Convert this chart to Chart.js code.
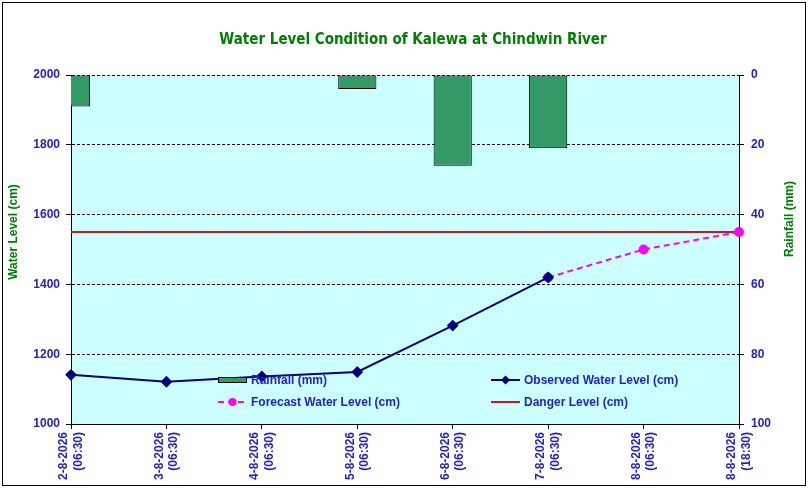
<!DOCTYPE html>
<html>
<head>
<meta charset="utf-8">
<script src="https://cdn.jsdelivr.net/npm/chart.js@4/dist/chart.umd.min.js"></script>
<style>
html, body { margin: 0; padding: 0; background: #fff; }
#wrap { width: 809px; height: 490px; }
</style>
</head>
<body>
<div id="wrap"><canvas id="chart" width="809" height="490"></canvas></div>
<script>
// === DATA ===
const chartTitle = "Water Level Condition of Kalewa at Chindwin River";
const leftAxisTitle = "Water Level (cm)";
const rightAxisTitle = "Rainfall (mm)";

const categories = [
  ["2-8-2026", "(06:30)"],
  ["3-8-2026", "(06:30)"],
  ["4-8-2026", "(06:30)"],
  ["5-8-2026", "(06:30)"],
  ["6-8-2026", "(06:30)"],
  ["7-8-2026", "(06:30)"],
  ["8-8-2026", "(06:30)"],
  ["8-8-2026", "(18:30)"],
];
const rainfall = [9, 0, 0, 4, 26, 21, 0, 0];
const observedLevel = [1141, 1121, 1136, 1149, 1282, 1420, null, null];
const forecastLevel = [null, null, null, null, null, 1420, 1500, 1550];
const dangerLevel = [1550, 1550, 1550, 1550, 1550, 1550, 1550, 1550];

const levelRange = [1000, 2000];
const rainRange = [0, 100];

const BLUE = "#2222CC";
const GREEN = "#008000";

// === FRAME, BACKGROUND, TITLES, LEGEND ===
const decor = {
  id: "decor",
  beforeDraw(chart) {
    const { ctx, chartArea: a } = chart;
    ctx.save();
    ctx.fillStyle = "#fff";
    ctx.fillRect(0, 0, chart.width, chart.height);
    ctx.strokeStyle = "#000";
    ctx.lineWidth = 1;
    ctx.strokeRect(2.5, 2.5, 803, 483);
    ctx.fillStyle = "#CCFFFF";
    ctx.fillRect(a.left, a.top, a.right - a.left, a.bottom - a.top);
    ctx.restore();
  },
  afterDraw(chart) {
    const { ctx } = chart;
    ctx.save();
    // title
    ctx.fillStyle = GREEN;
    ctx.font = 'bold 15px "DejaVu Sans Condensed", "DejaVu Sans"';
    ctx.textAlign = "center";
    ctx.textBaseline = "middle";
    ctx.fillText(chartTitle, 413, 40);

    // axis titles
    ctx.font = 'bold 12px "Liberation Sans"';
    ctx.save();
    ctx.translate(14, 232);
    ctx.rotate(-Math.PI / 2);
    ctx.fillText(leftAxisTitle, 0, 0);
    ctx.restore();
    ctx.save();
    ctx.translate(790, 219);
    ctx.rotate(-Math.PI / 2);
    ctx.fillText(rightAxisTitle, 0, 0);
    ctx.restore();

    // legend
    const ds = chart.data.datasets;
    const items = [
      { d: ds[0], x: 218, y: 380, kind: "box" },
      { d: ds[1], x: 491, y: 380, kind: "line" },
      { d: ds[2], x: 218, y: 402, kind: "line" },
      { d: ds[3], x: 491, y: 402, kind: "line" },
    ];
    items.forEach(({ d, x, y, kind }) => {
      if (kind === "box") {
        ctx.fillStyle = d.backgroundColor;
        ctx.fillRect(x, y - 3, 29, 6);
        ctx.strokeStyle = "#000";
        ctx.lineWidth = 1;
        ctx.strokeRect(x + 0.5, y - 2.5, 28, 5);
      } else {
        ctx.strokeStyle = d.borderColor;
        ctx.lineWidth = d.borderWidth;
        ctx.setLineDash(d.borderDash || []);
        ctx.beginPath();
        ctx.moveTo(x, y);
        ctx.lineTo(x + 29, y);
        ctx.stroke();
        ctx.setLineDash([]);
        if (d.pointRadius > 0) {
          ctx.fillStyle = d.pointBackgroundColor;
          ctx.beginPath();
          if (d.pointStyle === "rectRot") {
            const r = d.pointRadius;
            ctx.moveTo(x + 14.5, y - r);
            ctx.lineTo(x + 14.5 + r, y);
            ctx.lineTo(x + 14.5, y + r);
            ctx.lineTo(x + 14.5 - r, y);
            ctx.closePath();
          } else {
            ctx.arc(x + 14.5, y, d.pointRadius, 0, Math.PI * 2);
          }
          ctx.fill();
        }
      }
      ctx.fillStyle = BLUE;
      ctx.font = 'bold 12px "Liberation Sans"';
      ctx.textAlign = "left";
      ctx.textBaseline = "middle";
      ctx.fillText(d.label, x + 33, y + 1);
    });
    ctx.restore();
  },
};

const tickFont = { family: "Liberation Sans", size: 12, weight: "bold" };
const plain = (v) => String(v);

new Chart(document.getElementById("chart"), {
  type: "bar",
  data: {
    labels: categories,
    datasets: [
      {
        type: "bar",
        label: "Rainfall (mm)",
        data: rainfall,
        yAxisID: "y2",
        backgroundColor: "#339966",
        borderColor: "#000",
        borderWidth: 1,
        borderSkipped: false,
        barPercentage: 0.4,
        categoryPercentage: 1,
        clip: 0,
        order: 5,
      },
      {
        type: "line",
        label: "Observed Water Level (cm)",
        data: observedLevel,
        yAxisID: "y",
        borderColor: "#000080",
        backgroundColor: "#000080",
        borderWidth: 2,
        pointStyle: "rectRot",
        pointRadius: 4.5,
        pointBackgroundColor: "#000080",
        pointBorderColor: "#000080",
        tension: 0,
        order: 2,
      },
      {
        type: "line",
        label: "Forecast Water Level (cm)",
        data: forecastLevel,
        yAxisID: "y",
        borderColor: "#FF00FF",
        backgroundColor: "#FF00FF",
        borderWidth: 2,
        borderDash: [6, 4],
        pointStyle: "circle",
        pointRadius: 4,
        pointBackgroundColor: "#FF00FF",
        pointBorderColor: "#FF00FF",
        tension: 0,
        order: 3,
      },
      {
        type: "line",
        label: "Danger Level (cm)",
        data: dangerLevel,
        yAxisID: "y",
        borderColor: "#DD1111",
        borderWidth: 2,
        pointRadius: 0,
        tension: 0,
        order: 4,
      },
    ],
  },
  options: {
    responsive: false,
    devicePixelRatio: 1,
    animation: false,
    layout: { padding: { top: 75, left: 4, right: 4, bottom: 0 } },
    plugins: {
      legend: { display: false },
      title: { display: false },
      tooltip: { enabled: false },
    },
    scales: {
      x: {
        type: "category",
        offset: false,
        grid: { offset: false, drawOnChartArea: false, drawTicks: true, tickLength: 5, color: "#000" },
        border: { display: true, color: "#000", width: 1 },
        ticks: {
          color: BLUE,
          font: tickFont,
          autoSkip: false,
          minRotation: 90,
          maxRotation: 90,
          padding: 3,
          labelOffset: -7,
        },
        afterFit(scale) { scale.height = 66; },
      },
      y: {
        position: "left",
        min: levelRange[0],
        max: levelRange[1],
        ticks: { stepSize: 200, color: BLUE, font: tickFont, padding: 6, callback: plain },
        grid: {
          color: (c) => (c.tick && c.tick.value === levelRange[0] ? "rgba(0,0,0,0)" : "#000"),
          tickColor: "#000",
          tickLength: 5,
          tickBorderDash: [],
        },
        border: { display: true, color: "#000", width: 1, dash: [3, 2] },
        afterFit(scale) { scale.width = 67; },
      },
      y2: {
        position: "right",
        reverse: true,
        min: rainRange[0],
        max: rainRange[1],
        ticks: { stepSize: 20, color: BLUE, font: tickFont, padding: 7, callback: plain },
        grid: { drawOnChartArea: false, color: "#000", tickLength: 5 },
        border: { display: true, color: "#000", width: 1 },
        afterFit(scale) { scale.width = 66; },
      },
    },
  },
  plugins: [decor],
});
</script>
</body>
</html>
